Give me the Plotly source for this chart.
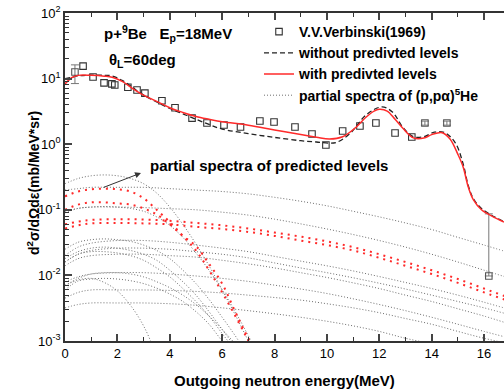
import plotly.graph_objects as go

# ---------------- data ----------------
exp_E = [0.69, 1.07, 1.49, 1.79, 1.9, 2.4, 2.75, 3.05, 3.7, 4.2, 4.85, 5.42, 6.07, 6.7,
         7.44, 7.98, 8.78, 9.43, 9.96, 10.6, 11.26, 11.87, 12.6, 13.24]
exp_V = [15.5, 10.6, 8.6, 8.3, 8.0, 7.4, 6.7, 6.0, 4.6, 3.6, 2.5, 2.1, 1.96, 1.83,
         2.26, 2.18, 1.83, 1.43, 0.97, 1.59, 1.89, 2.10, 1.48, 1.29]
err_E = [0.38, 13.74, 14.58, 16.18]
err_V = [12.6, 2.1, 2.1, 0.0098]
err_plus = [3.6, 0.15, 0.15, 0.077]
err_minus = [4.2, 0.15, 0.15, 0.0]

with_E = [0, 0.25, 0.5, 1.0, 1.5, 1.8, 2.2, 2.6, 3.0, 3.5, 4.0, 4.5, 5.0, 5.5, 6.0, 7.0, 8.0,
          9.0, 9.6, 10.1, 10.6, 11.1, 11.5, 11.8, 12.0, 12.3, 12.6, 12.9, 13.3, 13.7, 14.0,
          14.4, 14.7, 15.0, 15.2, 15.4, 15.6, 15.9, 16.3, 16.76]
with_V = [8.3, 10.3, 11.2, 11.2, 10.9, 10.5, 9.0, 7.0, 5.6, 4.5, 3.6, 3.05, 2.65, 2.4, 2.2,
          1.95, 1.65, 1.4, 1.28, 1.2, 1.3, 1.8, 2.6, 3.2, 3.4, 3.2, 2.4, 1.75, 1.25, 1.24,
          1.4, 1.5, 1.2, 0.7, 0.45, 0.22, 0.14, 0.1, 0.08, 0.065]

wo_E = [0, 0.25, 0.5, 1.0, 1.5, 1.8, 2.2, 2.6, 3.0, 3.5, 4.0, 4.5, 5.0, 5.5, 6.0, 7.0, 8.0,
        9.0, 9.6, 10.1, 10.4, 10.9, 11.5, 12.1, 12.5, 12.9, 13.3, 13.7, 14.1, 14.5, 14.9,
        15.2, 15.4, 15.6, 15.9, 16.3, 16.76]
wo_V = [10.0, 10.5, 11.0, 11.3, 11.2, 11.0, 9.3, 7.2, 5.6, 4.4, 3.5, 2.9, 2.4, 2.0, 1.7,
        1.45, 1.27, 1.13, 1.08, 1.04, 1.08, 1.48, 2.8, 3.7, 3.1, 1.8, 1.3, 1.3, 1.53, 1.5,
        1.05, 0.5, 0.23, 0.145, 0.105, 0.082, 0.066]

# partial spectra, humped shapes (energy grid hump_E)
hump_E = [0, 0.5, 1, 1.5, 2, 2.5, 3, 3.5, 4, 4.5, 5, 5.5, 6, 6.5, 7, 7.5]
red_h1 = [0.16, 0.19, 0.205, 0.21, 0.205, 0.19, 0.15, 0.1, 0.065, 0.04, 0.024, 0.012,
          0.0055, 0.0024, 0.001, 0.0004]
red_h2 = [0.1, 0.12, 0.13, 0.13, 0.125, 0.12, 0.105, 0.085, 0.06, 0.04, 0.028, 0.015,
          0.0075, 0.0028, 0.0011, 0.0005]
gray_h1 = [0.25, 0.3, 0.33, 0.34, 0.33, 0.3, 0.25, 0.18, 0.11, 0.06, 0.03, 0.014, 0.006,
           0.0025, 0.001, 0.0004]
gray_h2 = [0.09, 0.105, 0.11, 0.112, 0.11, 0.105, 0.095, 0.078, 0.058, 0.038, 0.022,
           0.012, 0.006, 0.0028, 0.0012, 0.0005]
gray_h3 = [0.025, 0.032, 0.035, 0.036, 0.035, 0.033, 0.029, 0.024, 0.018, 0.012, 0.0075,
           0.0043, 0.0023, 0.0012, 0.0006, 0.0003]
gray_h4 = [0.018, 0.023, 0.026, 0.027, 0.026, 0.024, 0.021, 0.017, 0.012, 0.008, 0.005,
           0.0028, 0.0015, 0.0008, 0.0004, 0.0002]
gray_h5 = [0.016, 0.021, 0.023, 0.023, 0.022, 0.02, 0.017, 0.013, 0.0095, 0.0063, 0.004,
           0.0024, 0.0013, 0.0007, 0.0003, 0.0002]
gray_h6 = [0.007, 0.009, 0.0105, 0.011, 0.011, 0.0105, 0.0095, 0.008, 0.0065, 0.005,
           0.0036, 0.0024, 0.0015, 0.0009, 0.0005, 0.0003]
gray_h7 = [0.006, 0.0082, 0.0088, 0.009, 0.0088, 0.0083, 0.0075, 0.0064, 0.0052, 0.004,
           0.0028, 0.0018, 0.001, 0.0006, 0.0003, 0.0002]
gray_h8 = [0.007, 0.0085, 0.009, 0.0078, 0.0058, 0.0035, 0.0017, 0.0006, 0.0002, 0.0001,
           0.0001, 0.0001, 0.0001, 0.0001, 0.0001, 0.0001]

# partial spectra, slowly falling shapes (energy grid long_E)
long_E = [0, 0.5, 1, 2, 3, 4, 5, 6, 7, 8, 9, 10, 11, 12, 13, 14, 15, 16, 17]
red_f1 = [0.06, 0.066, 0.07, 0.072, 0.071, 0.068, 0.063, 0.058, 0.052, 0.045, 0.039,
          0.033, 0.027, 0.021, 0.016, 0.012, 0.0088, 0.0063, 0.0045]
red_f2 = [0.052, 0.058, 0.062, 0.063, 0.062, 0.06, 0.055, 0.051, 0.046, 0.04, 0.034,
          0.029, 0.024, 0.0185, 0.014, 0.0105, 0.0077, 0.0055, 0.004]
gray_l1 = [0.2, 0.21, 0.22, 0.22, 0.22, 0.21, 0.2, 0.19, 0.175, 0.155, 0.135, 0.115, 0.095,
           0.078, 0.063, 0.05, 0.038, 0.029, 0.022]
gray_l2 = [0.095, 0.105, 0.11, 0.11, 0.108, 0.104, 0.1, 0.092, 0.083, 0.072, 0.061, 0.051,
           0.042, 0.034, 0.027, 0.021, 0.016, 0.012, 0.009]
gray_l3 = [0.02, 0.027, 0.031, 0.034, 0.034, 0.032, 0.029, 0.026, 0.023, 0.0195, 0.0165,
           0.014, 0.0117, 0.0096, 0.0078, 0.0063, 0.005, 0.0039, 0.003]
gray_l4 = [0.016, 0.021, 0.024, 0.026, 0.026, 0.025, 0.023, 0.021, 0.0185, 0.0155, 0.013,
           0.011, 0.0092, 0.0076, 0.0062, 0.005, 0.004, 0.0032, 0.0025]
gray_l5 = [0.014, 0.018, 0.02, 0.021, 0.021, 0.02, 0.019, 0.017, 0.015, 0.013, 0.011,
           0.0093, 0.0077, 0.0063, 0.005, 0.004, 0.0031, 0.0024, 0.0018]
gray_l6 = [0.008, 0.0095, 0.0105, 0.011, 0.011, 0.0105, 0.0098, 0.009, 0.0081, 0.0071,
           0.0062, 0.0053, 0.0044, 0.0036, 0.0029, 0.0023, 0.0018, 0.0014, 0.0011]
gray_l7 = [0.0045, 0.0055, 0.006, 0.006, 0.006, 0.0059, 0.0057, 0.0054, 0.005, 0.0046,
           0.0042, 0.0037, 0.0032, 0.0027, 0.0022, 0.0018, 0.0014, 0.0011, 0.0009]
gray_l8 = [0.0032, 0.0036, 0.0038, 0.0038, 0.0038, 0.0037, 0.0035, 0.0032, 0.0029,
           0.0026, 0.0023, 0.002, 0.0017, 0.0014, 0.0011, 0.0009, 0.0007, 0.0005, 0.0004]

x_ticks = [0, 2, 4, 6, 8, 10, 12, 14, 16]
y_ticks = [1e-3, 1e-2, 1e-1, 1e0, 1e1, 1e2]
y_ticktext = ['10<sup>-3</sup>', '10<sup>-2</sup>', '10<sup>-1</sup>', '10<sup>0</sup>',
              '10<sup>1</sup>', '10<sup>2</sup>']

# ---------------- figure ----------------
FONT = 'Liberation Sans, Arial, sans-serif'
GRAY = '#6e6e6e'
RED = '#ff2a2a'
GDOT = '1px,2px'
RDOT = '2px,5px'
fig = go.Figure()

gray_h = [gray_h1, gray_h2, gray_h3, gray_h4, gray_h5, gray_h6, gray_h7, gray_h8]
gray_l = [gray_l1, gray_l2, gray_l3, gray_l4, gray_l5, gray_l6, gray_l7, gray_l8]
for ys in gray_h:
    fig.add_trace(go.Scatter(x=hump_E, y=ys, mode='lines', line_shape='spline',
                             line=dict(color=GRAY, width=1, dash=GDOT), showlegend=False,
                             hoverinfo='skip'))
for ys in gray_l:
    fig.add_trace(go.Scatter(x=long_E, y=ys, mode='lines', line_shape='spline',
                             line=dict(color=GRAY, width=1, dash=GDOT), showlegend=False,
                             hoverinfo='skip'))
for ys in [red_h1, red_h2]:
    fig.add_trace(go.Scatter(x=hump_E, y=ys, mode='lines', line_shape='spline',
                             line=dict(color=RED, width=2, dash=RDOT), showlegend=False,
                             hoverinfo='skip'))
for ys in [red_f1, red_f2]:
    fig.add_trace(go.Scatter(x=long_E, y=ys, mode='lines', line_shape='spline',
                             line=dict(color=RED, width=2, dash=RDOT), showlegend=False,
                             hoverinfo='skip'))

fig.add_trace(go.Scatter(x=exp_E, y=exp_V, mode='markers',
                         name='<b>V.V.Verbinski(1969)</b>',
                         marker=dict(symbol='square-open', size=6.5, color='#333333',
                                     line=dict(width=1.1))))
fig.add_trace(go.Scatter(x=err_E, y=err_V, mode='markers', showlegend=False,
                         marker=dict(symbol='square-open', size=6.5, color='#555555',
                                     line=dict(width=1.1)),
                         error_y=dict(type='data', array=err_plus, arrayminus=err_minus,
                                      color='#777777', thickness=1, width=4)))
fig.add_trace(go.Scatter(x=wo_E, y=wo_V, mode='lines',
                         name='<b>without predivted levels</b>', line_shape='spline',
                         line=dict(color='#222222', width=1.3, dash='5px,3px')))
fig.add_trace(go.Scatter(x=with_E, y=with_V, mode='lines',
                         name='<b>with predivted levels</b>', line_shape='spline',
                         line=dict(color=RED, width=1.5)))
fig.add_trace(go.Scatter(x=[None], y=[None], mode='lines',
                         name='<b>partial spectra of (p,pα)<sup>5</sup>He</b>',
                         line=dict(color=GRAY, width=1, dash=GDOT)))

L, T, B = 65, 13, 50
W, H = 504, 391
pw, ph = W - L, H - T - B


def px(xp):
    return (xp - L) / pw


def py(yp):
    return (H - B - yp) / ph


fig.update_layout(
    width=W, height=H, margin=dict(l=L, r=0, t=T, b=B),
    paper_bgcolor='white', plot_bgcolor='white',
    font=dict(family=FONT, size=13, color='black'),
    legend=dict(x=px(259), y=py(16), xanchor='left', yanchor='top',
                bgcolor='rgba(0,0,0,0)', font=dict(size=14, family=FONT),
                tracegroupgap=0, itemwidth=30),
    showlegend=True,
)
fig.update_xaxes(range=[0, 16.76], tickvals=x_ticks, ticks='inside', ticklen=7,
                 tickwidth=1.5, showline=True, linewidth=1.5, linecolor='#333',
                 mirror='ticks', showgrid=False, zeroline=False,
                 tickfont=dict(size=13),
                 minor=dict(tickvals=[1, 3, 5, 7, 9, 11, 13, 15], ticks='inside',
                            ticklen=4, tickwidth=1, tickcolor='#333'))
ymin = [m * 10 ** e for e in range(-3, 2) for m in range(2, 10)]
fig.update_yaxes(type='log', range=[-3, 2], tickvals=y_ticks, ticktext=y_ticktext,
                 ticks='inside', ticklen=7, tickwidth=1.5, showline=True, linewidth=1.5,
                 linecolor='#333', showgrid=False, zeroline=False,
                 tickfont=dict(size=13),
                 minor=dict(tickvals=ymin, ticks='inside', ticklen=4, tickwidth=1,
                            tickcolor='#333'))

ann = [
    dict(x=px(102), y=py(34), text='p+<sup>9</sup>Be   E<sub>p</sub>=18MeV',
         xanchor='left', font=dict(size=15)),
    dict(x=px(107), y=py(60), text='θ<sub>L</sub>=60deg', xanchor='left',
         font=dict(size=15)),
    dict(x=px(148), y=py(165), text='partial spectra of predicted levels',
         xanchor='left', font=dict(size=15)),
    dict(x=px(22), y=py(183), text='d<sup>2</sup>σ/dΩdε(mb/MeV*sr)', textangle=-90,
         font=dict(size=14)),
    dict(x=px(284), y=py(380), text='Outgoing neutron energy(MeV)', font=dict(size=15)),
]
for a in ann:
    a.update(xref='paper', yref='paper', showarrow=False, yanchor='middle')
    a['text'] = '<b>' + a['text'] + '</b>'
    fig.add_annotation(**a)

fig.add_annotation(xref='paper', yref='paper', x=px(141), y=py(173),
                   ax=102 - 141, ay=188 - 173, axref='pixel', ayref='pixel', text='',
                   showarrow=True, arrowhead=2, arrowsize=1.2, arrowwidth=1,
                   arrowcolor='#333')

fig.write_html('out.html')
